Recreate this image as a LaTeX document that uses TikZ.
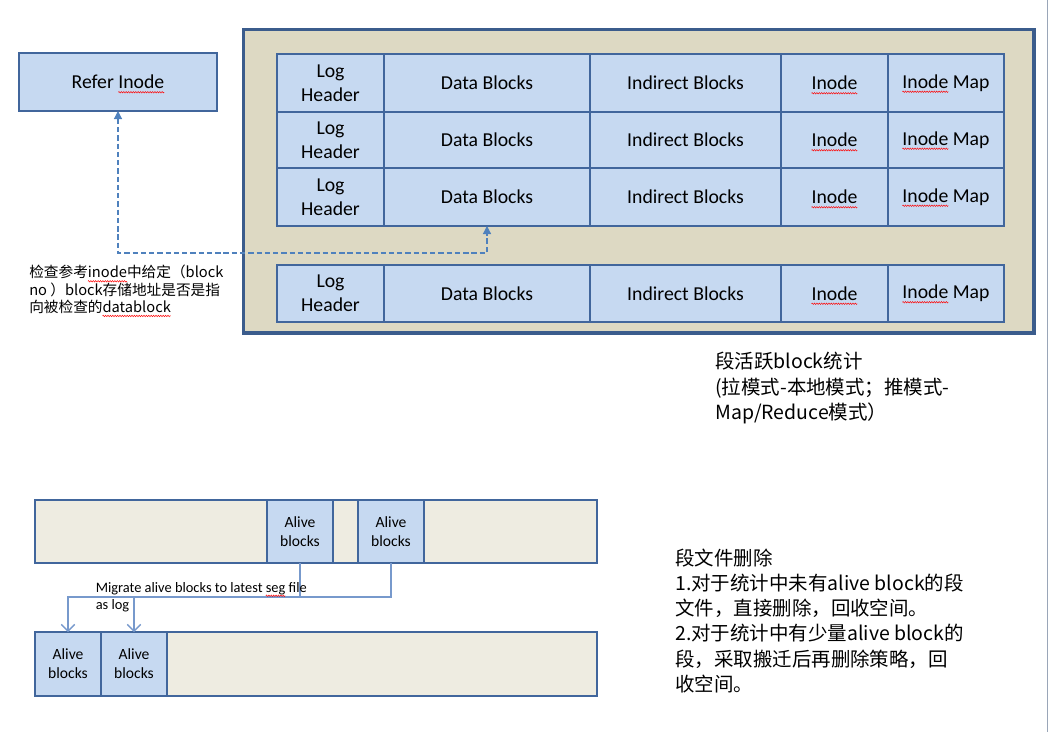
\documentclass[tikz,border=0pt]{standalone}
\usepackage{fontspec}
\setmainfont{Carlito}
\newfontfamily\cjk{Noto Sans CJK SC}
\usetikzlibrary{arrows.meta,decorations.pathmorphing}
\newsavebox\sqbox
\newcommand\sq[1]{\sbox\sqbox{#1}\rlap{\tikz[overlay,baseline=0pt]\draw[red,line width=0.35pt,decorate,decoration={zigzag,amplitude=0.55pt,segment length=1.8pt}] (0pt,-2.6pt) -- (\wd\sqbox,-2.6pt);}\usebox\sqbox}
\definecolor{cellfill}{HTML}{C6D9F1}
\definecolor{celldraw}{HTML}{41669C}
\definecolor{outerdraw}{HTML}{3B5C8C}
\definecolor{tanfill}{HTML}{DDD9C3}
\definecolor{barfill}{HTML}{EEECE1}
\definecolor{arrowblue}{HTML}{4F81BD}
\definecolor{migblue}{HTML}{7799CC}
\definecolor{edgegray}{HTML}{9AA6B8}
\newcommand\placebox[7]{\node[#1,minimum width={(#5-#3)*0.75pt},minimum height={(#6-#4)*0.75pt}] (#2) at ({(#3+#5)/2},{(#4+#6)/2}) {#7};}
\tikzset{
  cell/.style={draw=celldraw, fill=cellfill, line width=1.1pt, inner sep=0pt, outer sep=0pt, align=center, font=\fontsize{14.8}{18}\selectfont},
  alive/.style={cell, font=\fontsize{11.7}{14.3}\selectfont},
  outerbox/.style={draw=outerdraw, fill=tanfill, line width=2.6pt, inner sep=0pt, outer sep=0pt},
  bar/.style={draw=celldraw, fill=barfill, line width=1.1pt, inner sep=0pt, outer sep=0pt},
  dasharrow/.style={arrowblue, line width=0.9pt, dash pattern=on 4pt off 2.2pt, {Triangle[length=6pt,width=6pt]}-{Triangle[length=6pt,width=6pt]}},
  migline/.style={migblue, line width=1pt, -{Straight Barb[length=5pt,width=10pt]}},
  note/.style={anchor=north west, inner sep=0pt, align=left}
}
\begin{document}
\begin{tikzpicture}[x=0.75pt,y=-0.75pt]
\useasboundingbox (0,0) rectangle (1049,732);
% right edge line
\draw[edgegray, line width=0.9pt] (1047.5,0) -- (1047.5,732);
% outer segment box
\placebox{outerbox}{seg}{243.5}{29.5}{1034}{333}{}
% rows
\foreach \r/\ya/\yb in {1/54/112, 2/112/168, 3/168/226, 4/265/322}{
  \placebox{cell}{lh\r}{277}{\ya}{384}{\yb}{Log\\Header}
  \placebox{cell}{db\r}{384}{\ya}{590}{\yb}{Data Blocks}
  \placebox{cell}{ib\r}{590}{\ya}{781}{\yb}{Indirect Blocks}
  \placebox{cell}{in\r}{781}{\ya}{888}{\yb}{\sq{Inode}}
  \placebox{cell}{im\r}{888}{\ya}{1004}{\yb}{\sq{Inode} Map}
}
% refer inode
\placebox{cell}{ref}{19}{53}{217}{111}{Refer \sq{Inode}}
\coordinate (turn) at (118,253);
\draw[dasharrow] (ref.south) -- (turn) -| (db3.south);
\node[note, font=\cjk\fontsize{11}{13}\selectfont] (check) at (29,265) {检查参考\sq{inode}中给定（block\\no ）block存储地址是否是指\\向被检查的\sq{datablock}};
% statistics note
\node[note, font=\cjk\fontsize{14.6}{19.2}\selectfont] (stat) at (715,352) {段活跃block统计\\(拉模式-本地模式；推模式-\\Map/Reduce模式）};
% delete note
\node[note, font=\cjk\fontsize{14.6}{18.8}\selectfont] (del) at (675,549) {段文件删除\\1.对于统计中未有alive block的段\\文件，直接删除，回收空间。\\2.对于统计中有少量alive block的\\段，采取搬迁后再删除策略，回\\收空间。};
% migration bars
\placebox{bar}{bar1}{35}{500}{597}{563}{}
\placebox{alive}{a1}{267}{500}{333}{563}{Alive\\blocks}
\placebox{alive}{a2}{358}{500}{424}{563}{Alive\\blocks}
\placebox{bar}{bar2}{35}{632}{597}{696}{}
\placebox{alive}{b1}{35}{632}{101}{696}{Alive\\blocks}
\placebox{alive}{b2}{101}{632}{167}{696}{Alive\\blocks}
\coordinate (mig) at (0,597);
\draw[migline] (a1.south) -- (a1.south |- mig) -- (b1.north |- mig) -- (b1.north);
\draw[migline] (a2.south) -- (a2.south |- mig) -- (b2.north |- mig) -- (b2.north);
\node[note, font=\fontsize{10.8}{13}\selectfont] (migtxt) at (95.5,582) {Migrate alive blocks to latest \sq{seg} file\\as log};
\end{tikzpicture}
\end{document}
